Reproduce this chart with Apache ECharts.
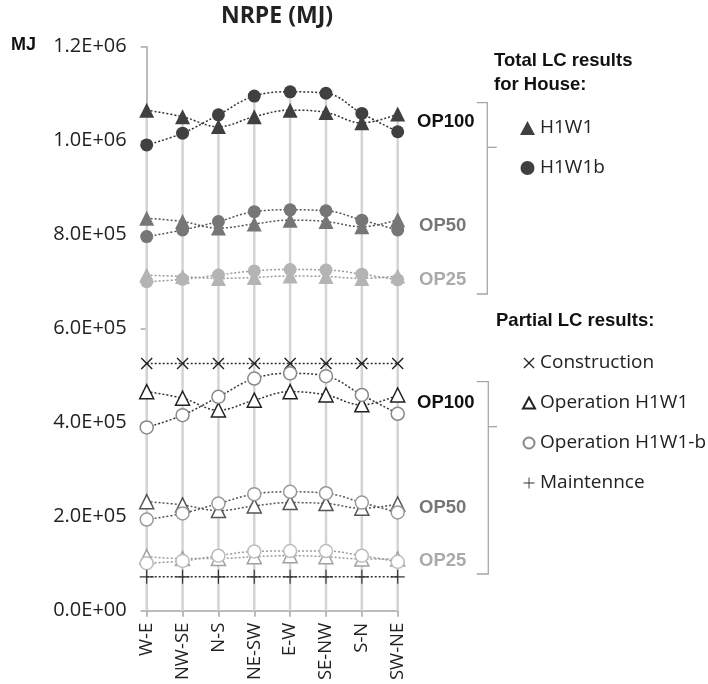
<!DOCTYPE html>
<html>
<head>
<meta charset="utf-8">
<script src="https://cdn.jsdelivr.net/npm/echarts@6/dist/echarts.min.js"></script>
<style>
  html, body { margin: 0; padding: 0; background: #fff; }
  #chart { width: 708px; height: 684px; }
</style>
</head>
<body>
<div id="chart"></div>
<script>
const categories = ['W-E', 'NW-SE', 'N-S', 'NE-SW', 'E-W', 'SE-NW', 'S-N', 'SW-NE'];

// total LC results for house
const totH1W1_100 = [1065000, 1051000, 1030000, 1051000, 1065000, 1060000, 1038000, 1057000];
const totH1W1b_100 = [991000, 1016000, 1055000, 1095000, 1104000, 1101000, 1058000, 1019000];
const totH1W1_50 = [835000, 828000, 814000, 823000, 831000, 828000, 817000, 832000];
const totH1W1b_50 = [796000, 810000, 828000, 849000, 853000, 851000, 831000, 810000];
const totH1W1_25 = [714000, 711000, 707000, 709000, 712000, 711000, 707000, 712000];
const totH1W1b_25 = [700000, 705000, 714000, 723000, 726000, 725000, 716000, 704000];

// partial LC results
const construction = [526000, 526000, 526000, 526000, 526000, 526000, 526000, 526000];
const opH1W1_100 = [466000, 452000, 427000, 448000, 466000, 459000, 438000, 459000];
const opH1W1b_100 = [390000, 416000, 455000, 494000, 505000, 499000, 459000, 419000];
const opH1W1_50 = [232000, 225000, 213000, 223000, 230000, 228000, 218000, 227000];
const opH1W1b_50 = [194000, 207000, 228000, 248000, 253000, 250000, 230000, 209000];
const opH1W1_25 = [115000, 111000, 111000, 115000, 117000, 115000, 110000, 110000];
const opH1W1b_25 = [101000, 106000, 117000, 126000, 127000, 127000, 117000, 104000];
const maintenance = [72000, 72000, 72000, 72000, 72000, 72000, 72000, 72000];

const yTicks = ['0.0E+00', '2.0E+05', '4.0E+05', '6.0E+05', '8.0E+05', '1.0E+06', '1.2E+06'];

const crossPath = 'path://M2,0 L12,10 L22,0 L24,2 L14,12 L24,22 L22,24 L12,14 L2,24 L0,22 L10,12 L0,2 Z';
const plusPath = 'path://M11,0 H13 V11 H24 V13 H13 V24 H11 V13 H0 V11 H11 Z';

// drop lines from the top point of each category down to the axis
const dropLine = totH1W1_100.map((v, i) => Math.max(v, totH1W1b_100[i]));

const sansFont = '"Open Sans", "DejaVu Sans", sans-serif';
const arialFont = '"Liberation Sans", Arial, sans-serif';

function filled(name, data, symbol, size, color, lineColor) {
    return {
        name: name, type: 'line', data: data, smooth: 0.4,
        symbol: symbol, symbolSize: size,
        itemStyle: {color: color},
        lineStyle: {color: lineColor, width: 1.5, type: [2, 2]},
        z: 3
    };
}

function hollow(name, data, symbol, size, color, lineColor) {
    return {
        name: name, type: 'line', data: data, smooth: 0.4,
        symbol: symbol, symbolSize: size,
        itemStyle: {color: '#fff', borderColor: color, borderWidth: 1.5},
        lineStyle: {color: lineColor, width: 1.5, type: [2, 2]},
        z: 3
    };
}

const option = {
    backgroundColor: '#fff',
    animation: false,
    title: {
        text: 'NRPE (MJ)',
        left: 277,
        textAlign: 'center',
        top: 5,
        padding: 0,
        textStyle: {fontFamily: sansFont, fontSize: 23, fontWeight: 'bold', color: '#222'}
    },
    grid: {left: 146.7, right: 310.3, top: 46.7, bottom: 73.3},
    legend: [
        {
            orient: 'vertical', left: 520, top: 118, padding: 0,
            itemWidth: 15, itemHeight: 14, itemGap: 20,
            textStyle: {fontFamily: sansFont, fontSize: 19, color: '#222', lineHeight: 20},
            data: [
                {name: 'H1W1', icon: 'triangle'},
                {name: 'H1W1b', icon: 'circle'}
            ]
        },
        {
            orient: 'vertical', left: 522, top: 353, padding: 0,
            itemWidth: 12, itemHeight: 11, itemGap: 20,
            textStyle: {fontFamily: sansFont, fontSize: 19, color: '#222', lineHeight: 20},
            data: [
                {name: 'Construction', icon: crossPath},
                {name: 'Operation H1W1', icon: 'triangle'},
                {name: 'Operation H1W1-b', icon: 'circle'},
                {name: 'Maintennce', icon: plusPath}
            ]
        }
    ],
    xAxis: {
        type: 'category',
        data: categories,
        boundaryGap: false,
        axisLine: {lineStyle: {color: '#a6a6a6', width: 1.5}},
        axisTick: {show: true, length: 6, lineStyle: {color: '#a6a6a6', width: 1.5}},
        axisLabel: {rotate: 90, margin: 12, fontFamily: sansFont, fontSize: 18.5, color: '#222'},
        splitLine: {show: false}
    },
    yAxis: {
        type: 'value',
        min: 0, max: 1200000, interval: 200000,
        axisLine: {show: true, lineStyle: {color: '#a6a6a6', width: 1.5}},
        axisTick: {show: true, length: 6, lineStyle: {color: '#a6a6a6', width: 1.5}},
        axisLabel: {
            margin: 20, fontFamily: sansFont, fontSize: 20, color: '#222',
            formatter: function (v) { return yTicks[Math.round(v / 200000)]; }
        },
        splitLine: {show: false}
    },
    series: [
        {
            name: 'drop', type: 'bar', data: dropLine, barWidth: 2.5,
            itemStyle: {color: '#d4d4d4'}, silent: true, z: 1
        },
        filled('H1W1', totH1W1_100, 'triangle', 15, '#404040', '#333'),
        filled('H1W1b', totH1W1b_100, 'circle', 13, '#404040', '#333'),
        filled('H1W1', totH1W1_50, 'triangle', 15, '#767676', '#555'),
        filled('H1W1b', totH1W1b_50, 'circle', 13, '#767676', '#555'),
        filled('H1W1', totH1W1_25, 'triangle', 15, '#b4b4b4', '#9a9a9a'),
        filled('H1W1b', totH1W1b_25, 'circle', 13, '#b4b4b4', '#9a9a9a'),
        {
            name: 'Construction', type: 'line', data: construction,
            symbol: crossPath, symbolSize: 12,
            itemStyle: {color: '#222'},
            lineStyle: {color: '#333', width: 1.5, type: [2, 2]},
            z: 3
        },
        hollow('Operation H1W1', opH1W1_100, 'triangle', 14, '#222', '#333'),
        hollow('Operation H1W1-b', opH1W1b_100, 'circle', 13, '#888', '#333'),
        hollow('Operation H1W1', opH1W1_50, 'triangle', 14, '#555', '#555'),
        hollow('Operation H1W1-b', opH1W1b_50, 'circle', 13, '#9a9a9a', '#555'),
        hollow('Operation H1W1', opH1W1_25, 'triangle', 14, '#a0a0a0', '#9a9a9a'),
        hollow('Operation H1W1-b', opH1W1b_25, 'circle', 13, '#bdbdbd', '#9a9a9a'),
        {
            name: 'Maintennce', type: 'line', data: maintenance,
            symbol: plusPath, symbolSize: 14,
            itemStyle: {color: '#333'},
            lineStyle: {color: '#333', width: 1.5, type: [2, 2]},
            z: 3
        }
    ],
    graphic: [
        {type: 'text', left: 11, top: 36, style: {text: 'MJ', font: 'bold 18px ' + arialFont, fill: '#111'}},
        {type: 'text', left: 494, top: 49, style: {text: 'Total LC results\nfor House:', font: 'bold 18.5px ' + arialFont, fill: '#111', lineHeight: 24}},
        {type: 'text', left: 496, top: 311, style: {text: 'Partial LC results:', font: 'bold 18.5px ' + arialFont, fill: '#111'}},
        // brackets
        {type: 'polyline', shape: {points: [[476.7, 102.7], [487.3, 102.7], [487.3, 294], [476.7, 294]]}, style: {stroke: '#a6a6a6', lineWidth: 1.3, fill: null}},
        {type: 'line', shape: {x1: 487.3, y1: 147.3, x2: 496.7, y2: 147.3}, style: {stroke: '#a6a6a6', lineWidth: 1.3}},
        {type: 'polyline', shape: {points: [[476.7, 381.7], [488.3, 381.7], [488.3, 574], [476.7, 574]]}, style: {stroke: '#a6a6a6', lineWidth: 1.3, fill: null}},
        {type: 'line', shape: {x1: 488.3, y1: 426.7, x2: 497, y2: 426.7}, style: {stroke: '#a6a6a6', lineWidth: 1.3}},
        // level labels
        {type: 'text', left: 417, top: 112, style: {text: 'OP100', font: 'bold 18.5px ' + arialFont, fill: '#111'}},
        {type: 'text', left: 419, top: 216, style: {text: 'OP50', font: 'bold 18.5px ' + arialFont, fill: '#777'}},
        {type: 'text', left: 419, top: 270, style: {text: 'OP25', font: 'bold 18.5px ' + arialFont, fill: '#aaa'}},
        {type: 'text', left: 417, top: 393, style: {text: 'OP100', font: 'bold 18.5px ' + arialFont, fill: '#111'}},
        {type: 'text', left: 419, top: 498, style: {text: 'OP50', font: 'bold 18.5px ' + arialFont, fill: '#777'}},
        {type: 'text', left: 419, top: 551, style: {text: 'OP25', font: 'bold 18.5px ' + arialFont, fill: '#aaa'}}
    ]
};

const chart = echarts.init(document.getElementById('chart'));
chart.setOption(option);
window.addEventListener('resize', function () {
    chart.resize();
});
</script>
</body>
</html>
